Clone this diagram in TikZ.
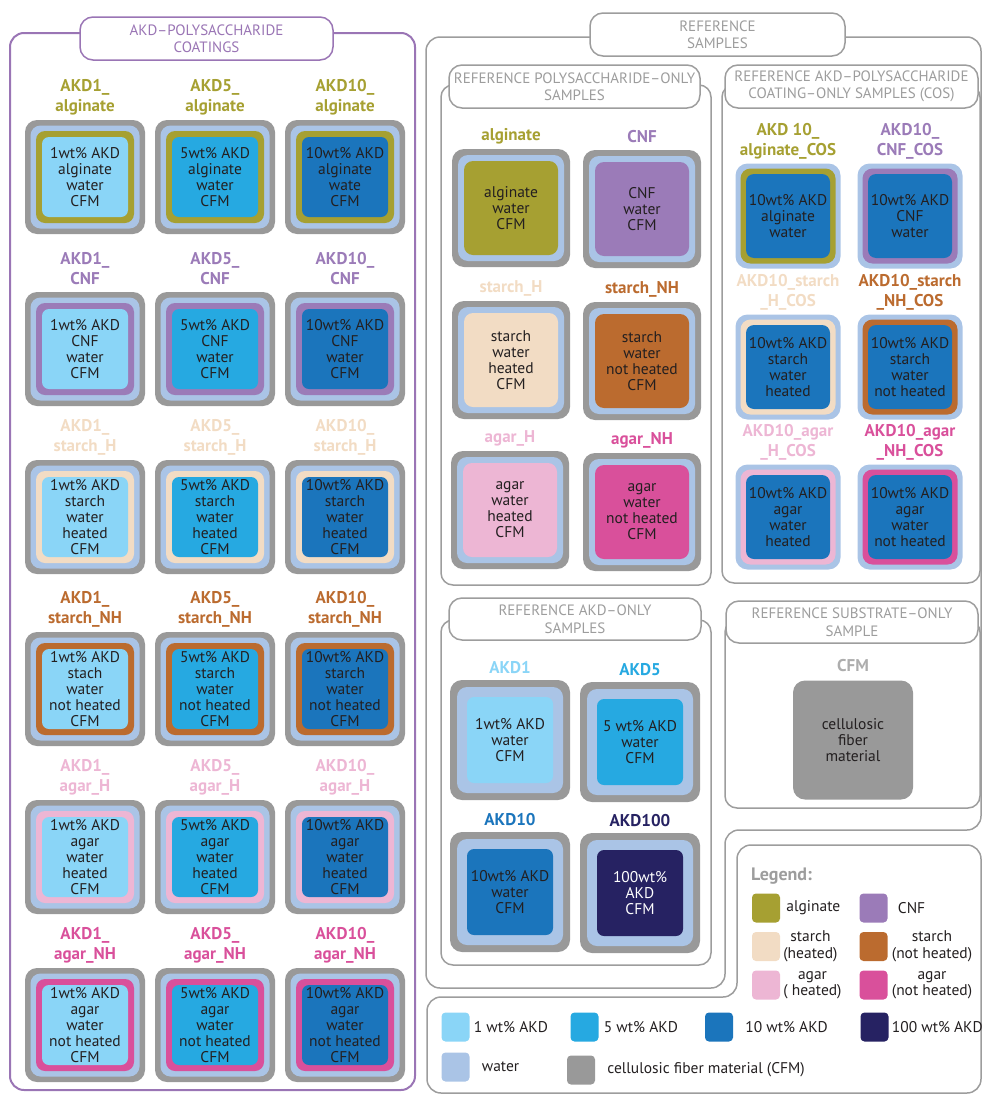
\documentclass[tikz,border=0pt]{standalone}
\usepackage{fontspec}
\setmainfont{PT Sans}
\usetikzlibrary{positioning}

\definecolor{cfm}{HTML}{999999}
\definecolor{water}{HTML}{AAC4E6}
\definecolor{alg}{HTML}{A6A032}
\definecolor{cnf}{HTML}{9B7BB8}
\definecolor{stH}{HTML}{F2DCC4}
\definecolor{stNH}{HTML}{BB6B2F}
\definecolor{agH}{HTML}{EDB6D4}
\definecolor{agNH}{HTML}{D9509B}
\definecolor{akdA}{HTML}{8AD5F7}
\definecolor{akdB}{HTML}{26A9E1}
\definecolor{akdC}{HTML}{1B75BC}
\definecolor{akdD}{HTML}{262262}
\definecolor{frameP}{HTML}{9A75B5}
\definecolor{frameG}{HTML}{9D9D9D}
\definecolor{ink}{HTML}{231F20}

\tikzset{
  lay/.style={rounded corners=#1, inner sep=0pt},
  cfmbox/.style={lay=12, fill=cfm, minimum width=120, minimum height=114},
  waterbox/.style={lay=10, fill=water, minimum width=109, minimum height=103},
  coatbox/.style={lay=9, minimum width=98, minimum height=92},
  akdbox/.style={lay=7, minimum width=86, minimum height=80},
  tiletext/.style={align=center, text=ink, font=\fontsize{15.5}{16}\selectfont, inner sep=0pt},
  tlabel/.style={align=center, font=\bfseries\fontsize{17}{20}\selectfont, inner sep=0pt},
  titlebox/.style={draw=frameG, line width=1.5, fill=white, rounded corners=13, align=center,
    text=frameG, font=\fontsize{15}{17.5}\selectfont, inner sep=0pt},
  frame/.style={draw=frameG, line width=1.5, rounded corners=14},
  swatch/.style={lay=4, minimum width=28, minimum height=29},
  legtext/.style={align=center, text=ink, font=\fontsize{15.5}{16.5}\selectfont, inner sep=0pt}
}

\begin{document}
\begin{tikzpicture}[x=1pt, y=-1pt]
\useasboundingbox (0,0) rectangle (982,1095);

% frames
\draw[frame, draw=frameP, line width=2] (10,33) rectangle (415,1090);
\draw[frame] (981,830) -- (725,830) -- (725,988) -- (426,988) -- (426,37) -- (981,37) -- cycle;
\draw[frame] (981,845) -- (737,845) -- (737,997) -- (427,997) -- (427,1093) -- (981,1093) -- cycle;
\draw[frame, rounded corners=12] (441,85) rectangle (711,585);
\draw[frame, rounded corners=12] (722,85) rectangle (980,583);
\draw[frame, rounded corners=12] (441,620) rectangle (711,965);
\draw[frame, rounded corners=12] (725,620) rectangle (980,808);

% titles
\node[titlebox, draw=frameP, text=frameP, minimum width=253, minimum height=43] (tcoat) at (206.5,38.5) {AKD--POLYSACCHARIDE\\COATINGS};
\node[titlebox, minimum width=255, minimum height=43] (tref) at (717.5,34.5) {REFERENCE\\SAMPLES};
\node[titlebox, minimum width=251, minimum height=43] (tpoly) at (574.5,86.5) {REFERENCE POLYSACCHARIDE--ONLY\\SAMPLES};
\node[titlebox, minimum width=253, minimum height=43] (tcos) at (851.5,86.5) {REFERENCE\ AKD--POLYSACCHARIDE\\COATING--ONLY SAMPLES (COS)};
\node[titlebox, minimum width=252, minimum height=42] (takd) at (575,619) {REFERENCE AKD--ONLY\\SAMPLES};
\node[titlebox, minimum width=252, minimum height=42] (tsub) at (852,622) {REFERENCE SUBSTRATE--ONLY\\SAMPLE};

% AKD-polysaccharide coatings
\foreach \pc/\pn/\ty [count=\r from 0] in {alg/alginate/177, cnf/CNF/349, stH/starch\_H/517,
    stNH/starch\_NH/689, agH/agar\_H/857, agNH/agar\_NH/1025}
  \foreach \ac/\an [count=\c from 0] in {akdA/1, akdB/5, akdC/10} {
    \pgfmathsetmacro\tx{85+130*\c}
    \node[cfmbox] (cfm\r\c) at (\tx,\ty) {};
    \node[waterbox] (wat\r\c) at (\tx,\ty) {};
    \node[coatbox, fill=\pc] (coat\r\c) at (\tx,\ty) {};
    \node[akdbox, fill=\ac] (akd\r\c) at (\tx,\ty) {};
    \node[tlabel, text=\pc] (lab\r\c) at (\tx,\ty-80) {AKD\an\_\\\pn};
  }
\node[tiletext] (txt00) at (akd00) {1wt\% AKD\\alginate\\water\\CFM};
\node[tiletext] (txt01) at (akd01) {5wt\% AKD\\alginate\\water\\CFM};
\node[tiletext] (txt02) at (akd02) {10wt\% AKD\\alginate\\wate\\CFM};
\node[tiletext] (txt10) at (akd10) {1wt\% AKD\\CNF\\water\\CFM};
\node[tiletext] (txt11) at (akd11) {5wt\% AKD\\CNF\\water\\CFM};
\node[tiletext] (txt12) at (akd12) {10wt\% AKD\\CNF\\water\\CFM};
\node[tiletext] (txt20) at (akd20) {1wt\% AKD\\starch\\water\\heated\\CFM};
\node[tiletext] (txt21) at (akd21) {5wt\% AKD\\starch\\water\\heated\\CFM};
\node[tiletext] (txt22) at (akd22) {10wt\% AKD\\starch\\water\\heated\\CFM};
\node[tiletext] (txt30) at (akd30) {1wt\% AKD\\stach\\water\\not heated\\CFM};
\node[tiletext] (txt31) at (akd31) {5wt\% AKD\\starch\\water\\not heated\\CFM};
\node[tiletext] (txt32) at (akd32) {10wt\% AKD\\starch\\water\\not heated\\CFM};
\node[tiletext] (txt40) at (akd40) {1wt\% AKD\\agar\\water\\heated\\CFM};
\node[tiletext] (txt41) at (akd41) {5wt\% AKD\\agar\\water\\heated\\CFM};
\node[tiletext] (txt42) at (akd42) {10wt\% AKD\\agar\\water\\heated\\CFM};
\node[tiletext] (txt50) at (akd50) {1wt\% AKD\\agar\\water\\not heated\\CFM};
\node[tiletext] (txt51) at (akd51) {5wt\% AKD\\agar\\water\\not heated\\CFM};
\node[tiletext] (txt52) at (akd52) {10wt\% AKD\\agar\\water\\not heated\\CFM};

% polysaccharide-only
\foreach \pc/\tx/\ty/\pn in {alg/511/208/alginate, cnf/642/209/CNF, stH/511/360/starch\_H,
    stNH/642/361/starch\_NH, agH/510/510/agar\_H, agNH/642/512/agar\_NH} {
  \node[cfmbox, minimum width=118, minimum height=118] (rcfm-\pc) at (\tx,\ty) {};
  \node[waterbox, minimum width=106, minimum height=106] (rwat-\pc) at (\tx,\ty) {};
  \node[akdbox, lay=9, fill=\pc, minimum width=94, minimum height=94] (rpol-\pc) at (\tx,\ty) {};
  \node[tlabel, text=\pc] (rlab-\pc) at (\tx,\ty-72) {\pn};
}
\node[tiletext] (rtxt-alg) at (rpol-alg) {alginate\\water\\CFM};
\node[tiletext] (rtxt-cnf) at (rpol-cnf) {CNF\\water\\CFM};
\node[tiletext] (rtxt-stH) at (rpol-stH) {starch\\water\\heated\\CFM};
\node[tiletext] (rtxt-stNH) at (rpol-stNH) {starch\\water\\not heated\\CFM};
\node[tiletext] (rtxt-agH) at (rpol-agH) {agar\\water\\heated\\CFM};
\node[tiletext] (rtxt-agNH) at (rpol-agNH) {agar\\water\\not heated\\CFM};

% coating-only (COS)
\foreach \pc/\tx/\ty/\pn in {alg/788/216/{AKD 10\_\\alginate\_COS}, cnf/910/216/{AKD10\_\\CNF\_COS},
    stH/788/367/{AKD10\_starch\\\_H\_COS}, stNH/910/367/{AKD10\_starch\\\_NH\_COS},
    agH/788/517/{AKD10\_agar\\\_H\_COS}, agNH/910/517/{AKD10\_agar\\\_NH\_COS}} {
  \node[lay=12, fill=water, minimum size=105] (cwat-\pc) at (\tx,\ty) {};
  \node[lay=10, fill=\pc, minimum size=95] (cpol-\pc) at (\tx,\ty) {};
  \node[lay=8, fill=akdC, minimum size=84] (cakd-\pc) at (\tx,\ty) {};
  \node[tlabel, text=\pc] (clab-\pc) at (\tx,\ty-75) {\pn};
}
\node[tiletext] (ctxt-alg) at (cakd-alg) {10wt\% AKD\\alginate\\water};
\node[tiletext] (ctxt-cnf) at (cakd-cnf) {10wt\% AKD\\CNF\\water};
\node[tiletext] (ctxt-stH) at (cakd-stH) {10wt\% AKD\\starch\\water\\heated};
\node[tiletext] (ctxt-stNH) at (cakd-stNH) {10wt\% AKD\\starch\\water\\not heated};
\node[tiletext] (ctxt-agH) at (cakd-agH) {10wt\% AKD\\agar\\water\\heated};
\node[tiletext] (ctxt-agNH) at (cakd-agNH) {10wt\% AKD\\agar\\water\\not heated};

% AKD-only
\foreach \ac/\tx/\ty/\an in {akdA/510/740/AKD1, akdB/640/742/AKD5, akdC/510/892/AKD10, akdD/640/893/AKD100} {
  \node[cfmbox, minimum width=120, minimum height=120] (acfm-\ac) at (\tx,\ty) {};
  \node[waterbox, minimum width=106, minimum height=106] (awat-\ac) at (\tx,\ty) {};
  \node[akdbox, fill=\ac, minimum width=86, minimum height=86] (aakd-\ac) at (\tx,\ty) {};
  \node[tlabel, text=\ac] (alab-\ac) at (\tx,\ty-72) {\an};
}
\node[tiletext] (atxt-akdA) at (aakd-akdA) {1wt\% AKD\\water\\CFM};
\node[tiletext] (atxt-akdB) at (aakd-akdB) {5 wt\% AKD\\water\\CFM};
\node[tiletext] (atxt-akdC) at (aakd-akdC) {10wt\% AKD\\water\\CFM};
\node[tiletext, text=white] (atxt-akdD) at (aakd-akdD) {100wt\%\\AKD\\CFM};

% substrate-only
\node[cfmbox, minimum width=120, minimum height=119] (sub) at (853,740) {};
\node[tlabel, text=cfm!80] (sublab) at (853,666) {CFM};
\node[tiletext] (subtxt) at (sub) {cellulosic\\fiber\\material};

% legend
\node[tlabel, text=frameG, anchor=west, font=\bfseries\fontsize{18}{20}\selectfont] (leghead) at (751,876) {Legend:};
\node[swatch, fill=alg] (sw-alg) at (766,908) {};
\node[swatch, fill=cnf] (sw-cnf) at (873.5,908) {};
\node[swatch, fill=stH] (sw-stH) at (766,946.5) {};
\node[swatch, fill=stNH] (sw-stNH) at (873.5,946.5) {};
\node[swatch, fill=agH] (sw-agH) at (766,985) {};
\node[swatch, fill=agNH] (sw-agNH) at (873.5,985) {};
\node[legtext, right=6pt of sw-alg] (lt-alg) {alginate};
\node[legtext, right=10pt of sw-cnf] (lt-cnf) {CNF};
\node[legtext, right=3pt of sw-stH] (lt-stH) {starch\\(heated)};
\node[legtext, right=4pt of sw-stNH] (lt-stNH) {starch\\(not heated)};
\node[legtext, right=3pt of sw-agH] (lt-agH) {agar\\( heated)};
\node[legtext, right=4pt of sw-agNH] (lt-agNH) {agar\\(not heated)};

\node[swatch, fill=akdA] (sw-1) at (455.5,1027) {};
\node[swatch, fill=akdB] (sw-5) at (584.5,1027) {};
\node[swatch, fill=akdC] (sw-10) at (719,1027) {};
\node[swatch, fill=akdD] (sw-100) at (874.5,1027) {};
\node[swatch, fill=water] (sw-w) at (455.5,1067) {};
\node[swatch, fill=cfm] (sw-c) at (581,1070) {};
\node[legtext, right=4pt of sw-1] (lt-1) {1 wt\% AKD};
\node[legtext, right=5pt of sw-5] (lt-5) {5 wt\% AKD};
\node[legtext, right=12pt of sw-10] (lt-10) {10 wt\% AKD};
\node[legtext, right=3pt of sw-100] (lt-100) {100 wt\% AKD};
\node[legtext, right=12pt of sw-w] (lt-w) {water};
\node[legtext, right=12pt of sw-c] (lt-c) {cellulosic fiber material (CFM)};
\end{tikzpicture}
\end{document}
